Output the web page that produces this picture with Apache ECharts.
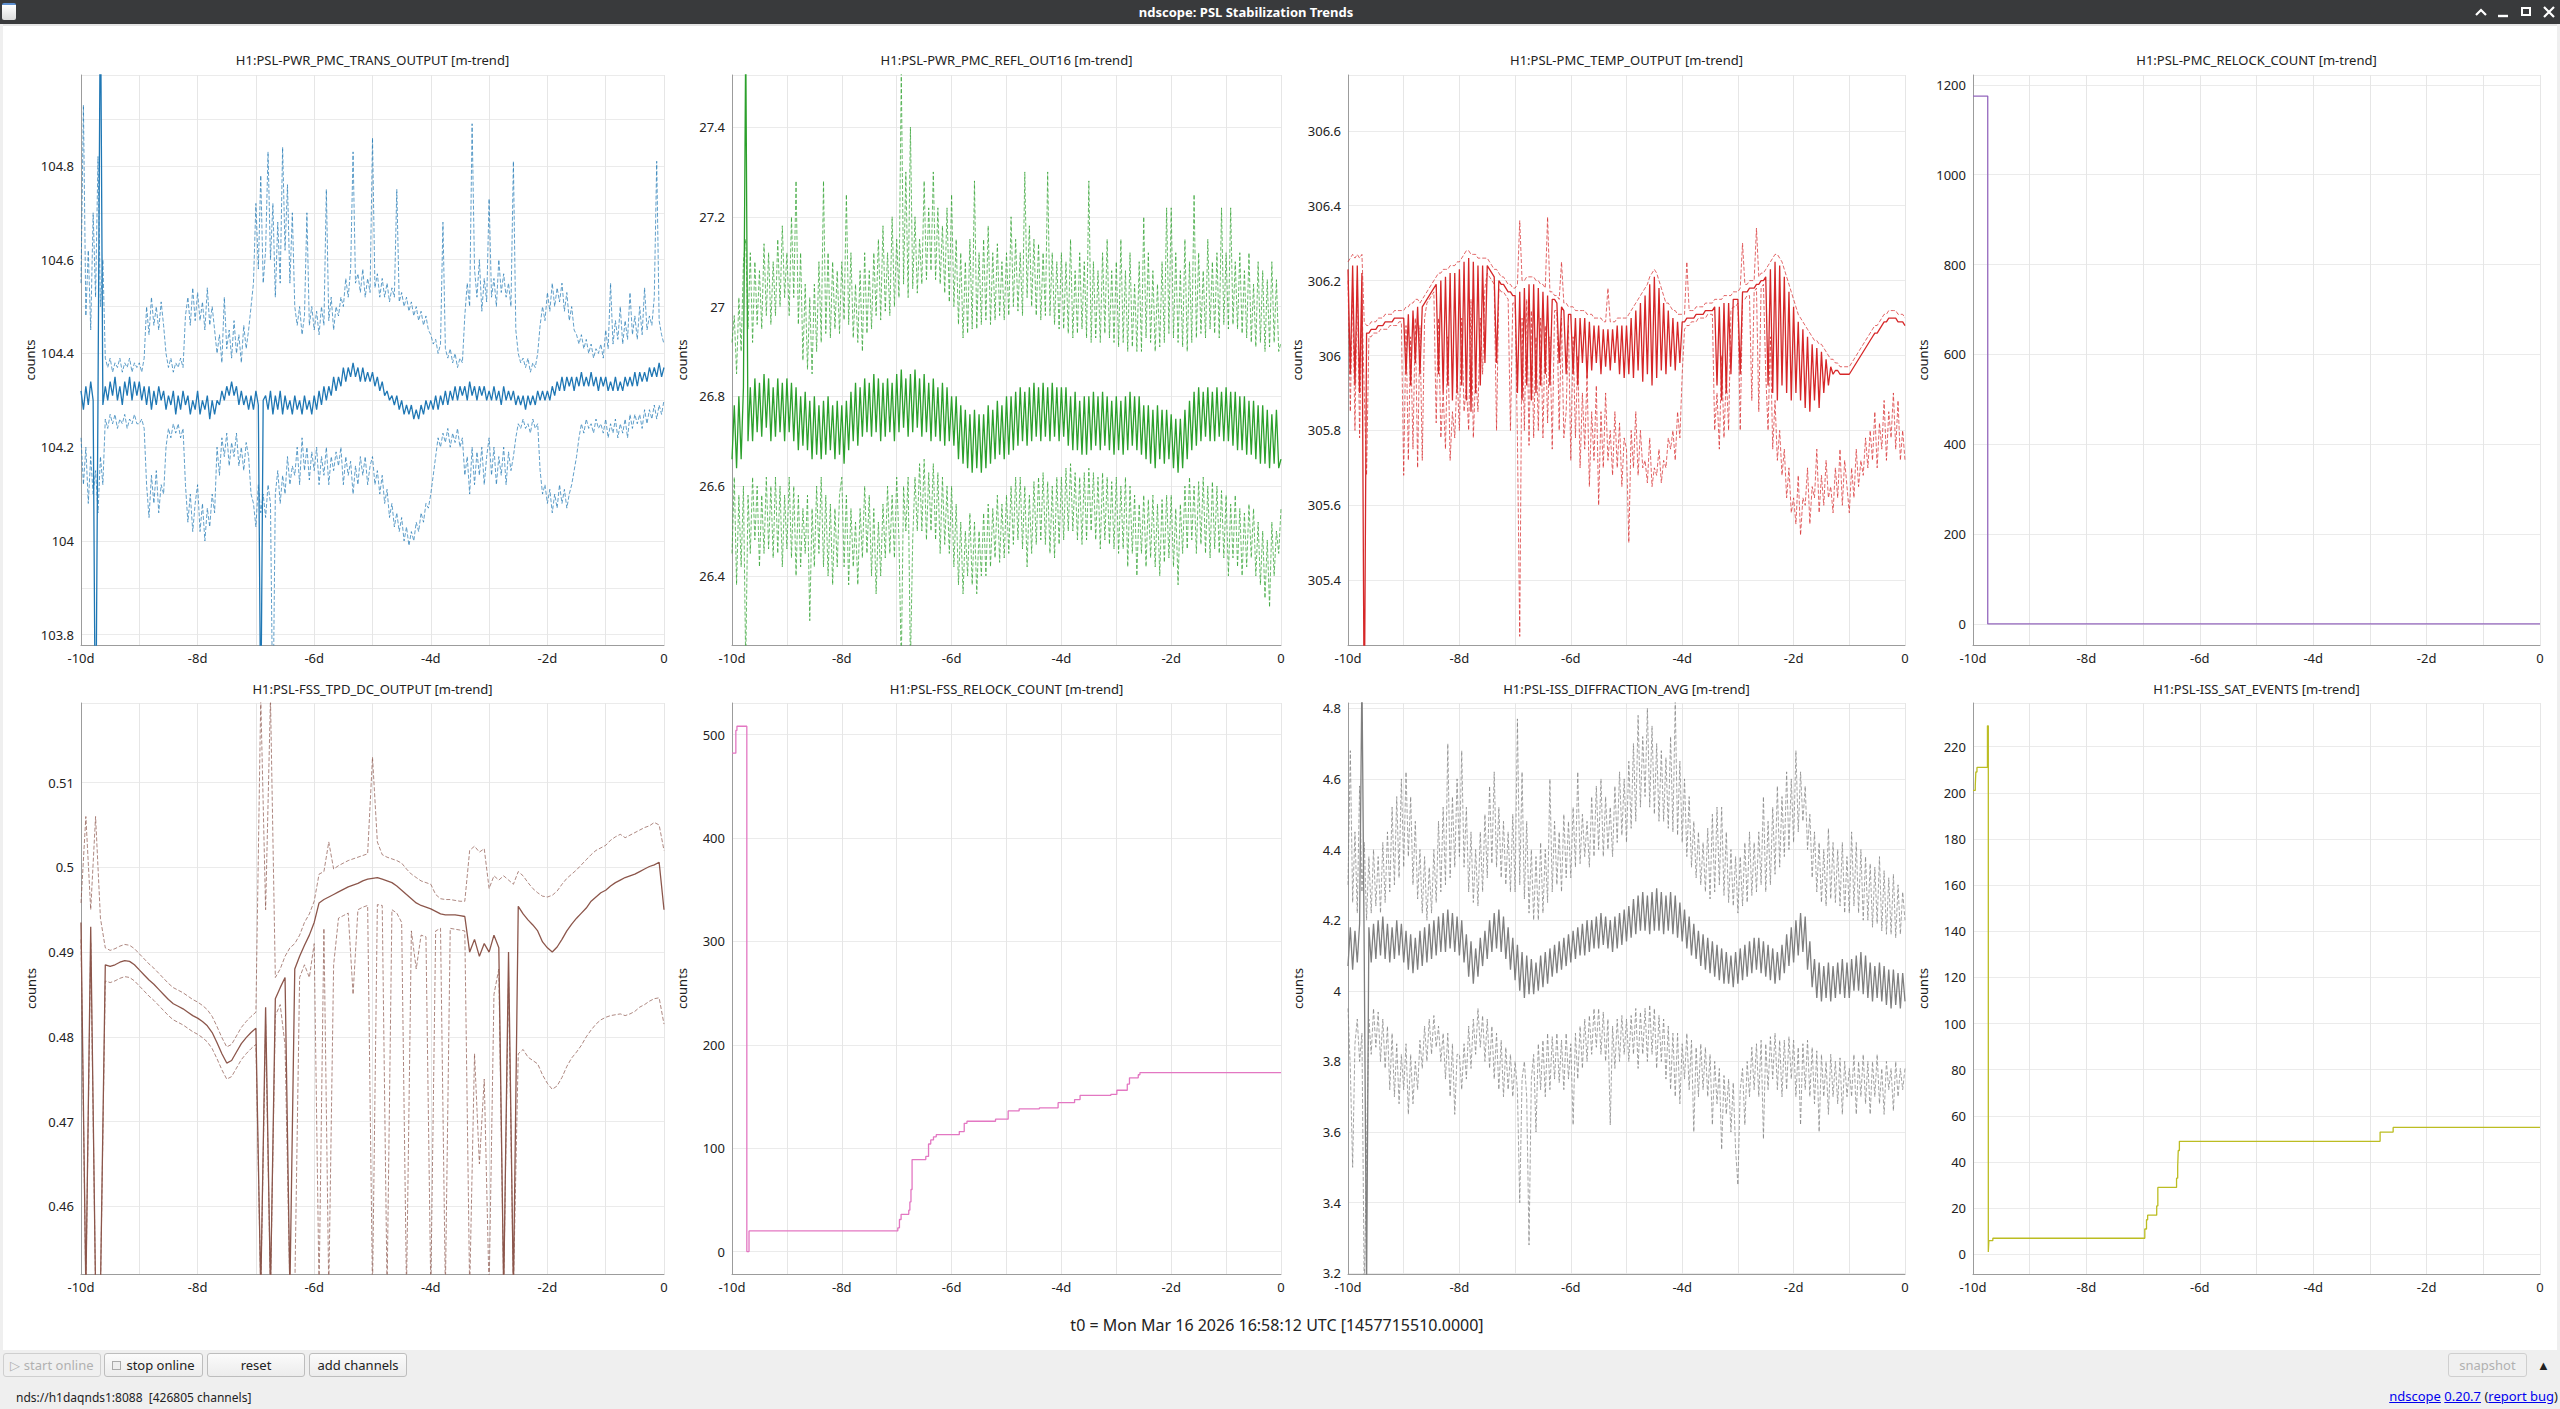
<!DOCTYPE html>
<html>
<head>
<meta charset="utf-8">
<title>ndscope: PSL Stabilization Trends</title>
<script src="https://cdn.jsdelivr.net/npm/echarts@6/dist/echarts.min.js"></script>
<style>
  html, body { margin: 0; padding: 0; width: 2560px; height: 1409px; overflow: hidden; background: #efefef; font-family: "Noto Sans", sans-serif; }
  #chart { position: absolute; left: 0; top: 0; width: 2560px; height: 1409px; background: #fff; }
  #titlebar { position: absolute; left: 0; top: 0; width: 2560px; height: 24px; background: #393a3c; color: #fff; }
  #titlebar .caption { position: absolute; left: 1246px; top: 0; transform: translateX(-50%); font-weight: bold; font-size: 13px; line-height: 24px; white-space: nowrap; }
  #titlebar .icon { position: absolute; left: 2px; top: 3px; width: 14px; height: 15px; background: linear-gradient(#ffffff, #dcdcdc); border-top: 2px solid #5d8fd0; border-radius: 2px; }
  #titlebar svg { position: absolute; top: 5px; }
  .strip { position: absolute; background: #efefef; }
  #bottom { position: absolute; left: 0; top: 1350px; width: 2560px; height: 59px; background: #efefef; }
  .btn { position: absolute; top: 1353px; height: 22px; border: 1px solid #bdbdbd; border-radius: 3px; background: linear-gradient(#fbfbfb, #ececec); font-size: 13px; line-height: 22px; text-align: center; color: #222; white-space: nowrap; }
  .btn.off { color: #b0b0b0; border-color: #cfcfcf; background: #f0f0f0; }
  #status { position: absolute; left: 16px; top: 1389px; font-size: 12px; color: #222; }
  #version { position: absolute; right: 2px; top: 1387px; font-size: 13px; color: #222; }
  #version a { color: #0000ee; text-decoration: underline; }
  #t0 { position: absolute; left: 0; top: 1314px; width: 2554px; text-align: center; font-size: 16px; color: #222; }
</style>
</head>
<body>
<div id="chart"></div>

<div id="titlebar">
  <div class="icon"></div>
  <div class="caption">ndscope: PSL Stabilization Trends</div>
  <svg style="left:2473px" width="16" height="14"><polyline points="3,10 8,5 13,10" fill="none" stroke="#fff" stroke-width="2.2"/></svg>
  <svg style="left:2495px" width="16" height="14"><line x1="3" y1="11" x2="13" y2="11" stroke="#fff" stroke-width="2.4"/></svg>
  <svg style="left:2518px" width="16" height="14"><rect x="4" y="3" width="8" height="7" fill="none" stroke="#fff" stroke-width="2"/></svg>
  <svg style="left:2541px" width="16" height="14"><path d="M3,2 L13,12 M13,2 L3,12" stroke="#fff" stroke-width="2.2"/></svg>
</div>
<div class="strip" style="left:0;top:24px;width:2560px;height:2px;background:#e4e4e4"></div>
<div class="strip" style="left:0;top:24px;width:3px;height:1326px"></div>
<div class="strip" style="left:2557px;top:24px;width:3px;height:1326px"></div>

<div id="t0">t0 = Mon Mar 16 2026 16:58:12 UTC [1457715510.0000]</div>

<div id="bottom"></div>
<div class="btn off" style="left:3px;width:96px">&#9655; start online</div>
<div class="btn" style="left:104px;width:97px"><span style="display:inline-block;width:7px;height:7px;border:1px solid #aaa;background:#eee;margin-right:5px;vertical-align:0"></span>stop online</div>
<div class="btn" style="left:207px;width:96px">reset</div>
<div class="btn" style="left:309px;width:96px">add channels</div>
<div class="btn off" style="left:2448px;width:77px">snapshot</div>
<div style="position:absolute;left:2537px;top:1356px;font-size:13px;color:#222">&#9650;</div>
<div id="status">nds://h1daqnds1:8088&nbsp;&nbsp;[426805 channels]</div>
<div id="version"><a>ndscope</a> <a>0.20.7</a> (<a>report bug</a>)</div>

<script>
// trend samples run from -10 d to 0; one row below = one day (hourly samples)

// H1:PSL-PWR_PMC_TRANS_OUTPUT
const transMean = [
  104.32,104.28,104.33,104.29,104.34,104.30,103.50,104.31,105.20,104.29,104.33,104.30,104.34,104.31,104.35,104.30,104.33,104.29,104.34,104.31,104.35,104.30,104.34,104.31,
  104.34,104.30,104.33,104.29,104.33,104.28,104.32,104.29,104.33,104.30,104.32,104.28,104.31,104.29,104.32,104.27,104.31,104.28,104.32,104.29,104.31,104.27,104.30,104.28,
  104.32,104.27,104.30,104.28,104.31,104.26,104.30,104.27,104.30,104.29,104.32,104.30,104.33,104.31,104.34,104.31,104.33,104.29,104.32,104.29,104.31,104.28,104.31,104.28,
  104.32,104.29,103.60,104.30,104.31,104.28,104.32,104.27,104.31,104.28,104.32,104.27,104.31,104.28,104.30,104.27,104.31,104.28,104.30,104.27,104.31,104.28,104.30,104.27,
  104.31,104.28,104.32,104.29,104.33,104.30,104.33,104.31,104.35,104.32,104.35,104.33,104.37,104.34,104.37,104.35,104.38,104.35,104.37,104.34,104.37,104.34,104.36,104.34,
  104.36,104.33,104.35,104.32,104.34,104.31,104.32,104.30,104.31,104.29,104.31,104.28,104.30,104.27,104.29,104.27,104.29,104.26,104.28,104.26,104.29,104.27,104.30,104.28,
  104.30,104.28,104.31,104.28,104.31,104.29,104.32,104.29,104.32,104.30,104.33,104.30,104.33,104.31,104.33,104.30,104.34,104.31,104.33,104.30,104.33,104.31,104.33,104.30,
  104.32,104.30,104.33,104.30,104.32,104.29,104.33,104.30,104.32,104.30,104.32,104.29,104.31,104.29,104.31,104.28,104.31,104.29,104.31,104.29,104.32,104.30,104.32,104.30,
  104.32,104.30,104.33,104.31,104.34,104.32,104.35,104.32,104.35,104.33,104.35,104.32,104.35,104.33,104.36,104.33,104.35,104.33,104.36,104.33,104.35,104.32,104.35,104.33,
  104.35,104.32,104.34,104.32,104.35,104.32,104.34,104.32,104.35,104.33,104.35,104.33,104.36,104.33,104.36,104.34,104.36,104.34,104.37,104.35,104.37,104.35,104.38,104.35,
  104.37];
const transMax = [
  104.55,104.93,104.48,104.62,104.45,104.70,104.52,104.82,104.50,104.60,104.39,104.37,104.39,104.36,104.38,104.37,104.39,104.36,104.38,104.37,104.39,104.36,104.38,104.37,
  104.38,104.36,104.39,104.50,104.44,104.52,104.46,104.50,104.45,104.51,104.46,104.40,104.37,104.39,104.36,104.38,104.37,104.39,104.37,104.48,104.52,104.46,104.54,104.47,
  104.53,104.47,104.51,104.45,104.54,104.46,104.50,104.45,104.40,104.44,104.38,104.52,104.41,104.45,104.39,104.47,104.40,104.44,104.38,104.46,104.41,104.45,104.50,104.55,
  104.72,104.58,104.78,104.55,104.62,104.83,104.60,104.72,104.52,104.68,104.55,104.84,104.62,104.76,104.55,104.70,104.50,104.46,104.50,104.44,104.48,104.70,104.46,104.50,
  104.45,104.49,104.44,104.50,104.46,104.75,104.47,104.52,104.45,104.50,104.48,104.52,104.50,104.56,104.52,104.58,104.83,104.55,104.57,104.53,104.58,104.52,104.56,104.53,
  104.86,104.54,104.57,104.52,104.56,104.52,104.55,104.51,104.54,104.52,104.75,104.51,104.53,104.50,104.52,104.49,104.51,104.48,104.50,104.47,104.49,104.46,104.48,104.45,
  104.44,104.42,104.43,104.40,104.42,104.68,104.41,104.39,104.41,104.38,104.40,104.37,104.39,104.38,104.48,104.55,104.50,104.89,104.58,104.52,104.60,104.49,104.56,104.51,
  104.73,104.52,104.56,104.50,104.60,104.53,104.57,104.52,104.55,104.50,104.81,104.45,104.40,104.38,104.39,104.37,104.39,104.36,104.38,104.37,104.40,104.46,104.50,104.47,
  104.53,104.49,104.55,104.50,104.54,104.51,104.55,104.49,104.53,104.47,104.50,104.45,104.44,104.42,104.44,104.41,104.43,104.40,104.42,104.39,104.41,104.40,104.42,104.39,
  104.45,104.41,104.55,104.42,104.47,104.43,104.50,104.42,104.47,104.43,104.53,104.44,104.48,104.43,104.50,104.44,104.54,104.45,104.48,104.46,104.52,104.81,104.47,104.44,
  104.42];
const transMin = [
  104.22,104.12,104.20,104.08,104.18,104.10,104.15,104.06,104.18,104.12,104.26,104.24,104.27,104.25,104.27,104.24,104.26,104.25,104.27,104.24,104.26,104.25,104.27,104.25,
  104.25,104.26,104.24,104.12,104.05,104.14,104.08,104.15,104.06,104.12,104.10,104.20,104.24,104.22,104.25,104.23,104.25,104.22,104.24,104.12,104.04,104.10,104.02,104.08,
  104.12,104.02,104.08,104.00,104.07,104.03,104.10,104.06,104.20,104.14,104.22,104.18,104.23,104.16,104.21,104.18,104.23,104.16,104.20,104.15,104.21,104.18,104.10,104.08,
  104.03,104.12,104.06,104.10,104.05,104.12,104.08,103.60,104.10,104.15,104.08,104.14,104.10,104.18,104.12,104.16,104.14,104.20,104.12,104.22,104.15,104.20,104.13,104.19,
  104.15,104.20,104.12,104.18,104.14,104.20,104.12,104.18,104.15,104.19,104.16,104.20,104.12,104.18,104.14,104.17,104.10,104.16,104.12,104.18,104.14,104.18,104.12,104.16,
  104.18,104.12,104.15,104.10,104.14,104.08,104.11,104.05,104.08,104.03,104.06,104.02,104.05,104.00,104.03,103.99,104.02,104.00,104.04,104.02,104.06,104.04,104.08,104.07,
  104.10,104.14,104.18,104.22,104.20,104.23,104.21,104.24,104.20,104.23,104.21,104.24,104.20,104.22,104.14,104.18,104.10,104.20,104.12,104.19,104.14,104.20,104.12,104.18,
  104.22,104.14,104.20,104.12,104.18,104.14,104.20,104.12,104.19,104.15,104.18,104.22,104.25,104.24,104.26,104.24,104.25,104.23,104.26,104.24,104.25,104.15,104.10,104.12,
  104.08,104.11,104.06,104.10,104.07,104.12,104.08,104.11,104.07,104.10,104.12,104.15,104.18,104.22,104.25,104.23,104.26,104.24,104.25,104.23,104.26,104.24,104.25,104.23,
  104.26,104.22,104.25,104.23,104.26,104.22,104.25,104.23,104.26,104.22,104.27,104.24,104.27,104.25,104.27,104.24,104.28,104.25,104.28,104.26,104.29,104.26,104.29,104.27,
  104.30];

// H1:PSL-PWR_PMC_REFL_OUT16
const reflMean = [
  26.66,26.78,26.64,26.80,26.66,26.82,27.60,26.70,26.82,26.70,26.84,26.72,26.83,26.71,26.85,26.73,26.84,26.70,26.82,26.71,26.84,26.72,26.83,26.70,
  26.84,26.72,26.83,26.70,26.82,26.68,26.80,26.69,26.81,26.68,26.79,26.66,26.80,26.67,26.78,26.66,26.79,26.67,26.80,26.68,26.78,26.66,26.79,26.67,
  26.78,26.65,26.79,26.68,26.81,26.70,26.83,26.69,26.82,26.71,26.84,26.72,26.83,26.71,26.85,26.72,26.84,26.70,26.83,26.71,26.84,26.72,26.83,26.70,
  26.85,26.72,26.86,26.73,26.84,26.71,26.85,26.72,26.86,26.73,26.84,26.71,26.85,26.72,26.83,26.70,26.84,26.71,26.82,26.70,26.83,26.69,26.82,26.70,
  26.80,26.69,26.80,26.66,26.78,26.65,26.77,26.64,26.76,26.63,26.77,26.64,26.76,26.63,26.76,26.64,26.78,26.65,26.77,26.66,26.79,26.67,26.78,26.66,
  26.80,26.67,26.80,26.68,26.81,26.69,26.82,26.70,26.81,26.69,26.82,26.70,26.83,26.71,26.82,26.70,26.83,26.71,26.82,26.70,26.83,26.71,26.82,26.70,
  26.82,26.71,26.82,26.69,26.80,26.68,26.81,26.68,26.79,26.67,26.80,26.67,26.80,26.68,26.81,26.69,26.80,26.68,26.81,26.69,26.80,26.68,26.79,26.67,
  26.80,26.68,26.79,26.67,26.80,26.68,26.81,26.69,26.80,26.68,26.80,26.67,26.78,26.66,26.78,26.65,26.77,26.64,26.78,26.66,26.77,26.65,26.77,26.66,
  26.76,26.64,26.75,26.63,26.75,26.64,26.77,26.66,26.79,26.68,26.81,26.69,26.82,26.70,26.81,26.71,26.82,26.70,26.81,26.70,26.82,26.71,26.81,26.70,
  26.82,26.70,26.81,26.69,26.81,26.68,26.80,26.68,26.80,26.67,26.79,26.67,26.79,26.66,26.78,26.65,26.78,26.65,26.77,26.64,26.76,26.65,26.77,26.64,
  26.66];
const reflMax = [
  26.92,26.98,26.85,27.02,26.90,27.10,27.15,26.95,27.12,26.92,27.10,26.96,27.08,26.95,27.14,26.98,27.12,26.96,27.10,26.98,27.15,27.00,27.18,27.02,
  27.12,26.98,27.20,27.02,27.28,26.96,27.12,26.88,27.05,26.86,27.02,26.85,27.05,26.90,27.10,26.92,27.28,26.94,27.12,26.93,27.10,26.95,27.08,26.94,
  27.10,26.97,27.25,26.96,27.12,26.93,27.05,26.92,27.08,26.90,27.12,26.94,27.08,26.95,27.12,26.98,27.15,26.97,27.18,26.99,27.12,26.98,27.20,27.00,
  27.15,27.02,27.52,27.05,27.30,27.02,27.40,27.04,27.20,27.03,27.15,27.05,27.28,27.06,27.22,27.08,27.30,27.06,27.22,27.05,27.18,27.03,27.22,27.01,
  27.25,27.00,27.15,26.96,27.12,26.93,27.10,26.94,27.15,26.95,27.28,26.95,27.12,26.96,27.15,26.97,27.18,26.96,27.12,26.97,27.14,26.98,27.10,26.97,
  27.12,26.98,27.20,27.00,27.15,26.99,27.12,26.98,27.30,27.02,27.18,27.00,27.15,26.98,27.14,26.97,27.12,26.98,27.30,26.98,27.12,26.96,27.10,26.95,
  27.12,26.95,27.10,26.94,27.15,26.93,27.08,26.94,27.12,26.95,27.10,26.93,27.28,26.92,27.10,26.93,27.08,26.92,27.12,26.94,27.15,26.93,27.08,26.92,
  27.10,26.91,27.15,26.92,27.08,26.90,27.12,26.91,27.05,26.90,27.10,26.90,27.20,26.93,27.12,26.92,27.08,26.90,27.05,26.91,27.10,26.92,27.22,26.94,
  27.22,26.93,27.12,26.92,27.08,26.91,27.15,26.90,27.10,26.92,27.25,26.93,27.12,26.94,27.08,26.93,27.15,26.95,27.10,26.94,27.12,26.93,27.22,26.96,
  27.12,26.95,27.22,26.96,27.10,26.95,27.12,26.94,27.08,26.93,27.12,26.92,27.05,26.91,27.10,26.92,27.08,26.90,27.06,26.91,27.10,26.92,27.06,26.90,
  26.92];
const reflMin = [
  26.45,26.62,26.38,26.58,26.42,26.60,26.20,26.58,26.45,26.62,26.48,26.60,26.42,26.58,26.45,26.62,26.46,26.60,26.44,26.62,26.45,26.60,26.42,26.58,
  26.46,26.62,26.44,26.60,26.40,26.58,26.42,26.55,26.45,26.58,26.30,26.55,26.42,26.60,26.45,26.62,26.42,26.58,26.40,26.56,26.38,26.55,26.42,26.58,
  26.62,26.42,26.58,26.38,26.55,26.42,26.52,26.38,26.55,26.44,26.60,26.45,26.58,26.40,26.55,26.36,26.52,26.40,26.56,26.44,26.60,26.45,26.58,26.44,
  26.62,26.48,26.20,26.60,26.50,26.62,26.20,26.48,26.62,26.50,26.65,26.50,26.66,26.48,26.63,26.50,26.65,26.48,26.63,26.45,26.62,26.47,26.60,26.45,
  26.60,26.42,26.56,26.38,26.52,26.36,26.50,26.40,26.54,26.38,26.52,26.36,26.50,26.40,26.54,26.40,26.56,26.42,26.55,26.44,26.58,26.43,26.56,26.44,
  26.58,26.45,26.60,26.47,26.62,26.48,26.62,26.46,26.60,26.42,26.58,26.45,26.61,26.47,26.62,26.48,26.63,26.47,26.61,26.45,26.60,26.44,26.62,26.47,
  26.62,26.48,26.64,26.50,26.65,26.50,26.63,26.48,26.62,26.47,26.63,26.48,26.64,26.50,26.63,26.48,26.62,26.46,26.63,26.48,26.62,26.47,26.61,26.46,
  26.62,26.45,26.60,26.46,26.62,26.42,26.60,26.45,26.58,26.40,26.56,26.45,26.58,26.42,26.57,26.44,26.58,26.42,26.56,26.40,26.57,26.43,26.58,26.44,
  26.58,26.42,26.55,26.38,26.56,26.45,26.60,26.46,26.62,26.48,26.60,26.45,26.61,26.47,26.62,26.45,26.60,26.44,26.61,26.46,26.60,26.45,26.59,26.44,
  26.58,26.40,26.56,26.44,26.58,26.42,26.55,26.40,26.54,26.42,26.56,26.44,26.55,26.40,26.52,26.38,26.50,26.35,26.48,26.33,26.52,26.40,26.50,26.45,
  26.55];

// H1:PSL-PMC_TEMP_OUTPUT
const tempMean = [
  306.23,305.95,306.24,305.92,306.24,305.90,306.22,305.00,306.06,306.06,306.07,306.07,306.07,306.08,306.08,306.08,306.09,306.09,306.09,306.09,306.10,306.10,306.10,306.10,
  306.10,305.95,306.11,305.92,306.12,305.98,306.13,305.95,306.13,306.14,306.15,306.16,306.17,306.18,306.19,305.95,306.20,305.90,306.21,305.92,306.22,305.88,306.22,305.90,
  306.23,305.92,306.25,305.88,306.26,305.85,306.25,305.90,306.24,305.92,306.24,305.98,306.24,306.23,306.22,306.21,305.98,306.20,306.19,306.19,306.18,306.17,306.17,306.16,
  306.16,305.90,306.17,305.88,306.18,305.92,306.19,305.88,306.19,305.90,306.18,305.92,306.17,305.95,306.16,305.92,306.15,306.15,306.14,305.98,306.13,306.12,305.95,306.11,
  306.11,305.95,306.10,305.92,306.10,305.98,306.10,305.94,306.09,305.96,306.08,305.98,306.08,305.95,306.07,305.97,306.07,305.96,306.07,305.98,306.08,305.95,306.08,305.94,
  306.08,305.95,306.10,305.94,306.12,305.96,306.14,305.93,306.16,305.95,306.19,305.92,306.21,305.94,306.18,305.96,306.14,305.95,306.12,305.97,306.10,305.96,306.09,305.98,
  306.09,306.09,306.10,306.10,306.10,306.10,306.11,306.11,306.11,306.11,306.12,306.12,306.12,306.12,306.13,305.92,306.13,305.88,306.14,305.90,306.14,305.95,306.15,306.15,
  306.15,305.95,306.17,306.17,306.17,306.18,306.18,306.18,306.19,306.19,306.20,306.20,306.21,305.92,306.23,305.90,306.25,305.88,306.24,305.92,306.21,305.90,306.17,305.88,
  306.13,305.90,306.09,305.88,306.07,305.86,306.05,305.85,306.03,305.88,306.02,305.86,306.01,305.90,305.99,305.92,305.97,305.95,305.96,305.96,305.95,305.95,305.95,305.95,
  305.95,305.96,305.97,305.98,305.99,306.00,306.01,306.02,306.03,306.04,306.05,306.06,306.06,306.07,306.08,306.09,306.09,306.10,306.10,306.10,306.10,306.09,306.09,306.09,
  306.08];
const tempMax = [
  306.25,306.26,306.27,306.26,306.27,306.26,306.27,306.09,306.08,306.08,306.09,306.09,306.09,306.10,306.10,306.10,306.11,306.11,306.11,306.11,306.12,306.12,306.12,306.12,
  306.12,306.13,306.13,306.14,306.14,306.15,306.15,306.14,306.15,306.16,306.17,306.18,306.19,306.20,306.21,306.22,306.22,306.23,306.23,306.23,306.24,306.24,306.24,306.25,
  306.25,306.26,306.27,306.28,306.28,306.27,306.27,306.27,306.26,306.26,306.26,306.26,306.26,306.25,306.24,306.23,306.23,306.22,306.21,306.21,306.20,306.19,306.19,306.18,
  306.18,306.19,306.36,306.20,306.20,306.21,306.21,306.21,306.21,306.20,306.20,306.19,306.19,306.18,306.37,306.17,306.17,306.16,306.16,306.15,306.25,306.14,306.14,306.13,
  306.13,306.13,306.12,306.12,306.12,306.12,306.12,306.11,306.11,306.11,306.10,306.10,306.10,306.10,306.09,306.09,306.18,306.09,306.09,306.09,306.10,306.10,306.10,306.10,
  306.10,306.11,306.12,306.13,306.14,306.15,306.16,306.17,306.18,306.19,306.21,306.22,306.23,306.22,306.20,306.18,306.16,306.14,306.14,306.13,306.12,306.12,306.11,306.11,
  306.11,306.11,306.25,306.12,306.12,306.12,306.13,306.13,306.13,306.13,306.14,306.14,306.14,306.14,306.15,306.15,306.15,306.15,306.16,306.16,306.16,306.16,306.17,306.17,
  306.17,306.18,306.30,306.19,306.19,306.20,306.20,306.20,306.34,306.21,306.22,306.22,306.23,306.24,306.25,306.26,306.27,306.27,306.26,306.25,306.23,306.21,306.19,306.17,
  306.15,306.13,306.11,306.10,306.09,306.08,306.07,306.06,306.05,306.04,306.04,306.03,306.03,306.02,306.01,306.00,305.99,305.99,305.98,305.98,305.97,305.97,305.97,305.97,
  305.97,305.98,305.99,306.00,306.01,306.02,306.03,306.04,306.05,306.06,306.07,306.08,306.08,306.09,306.10,306.11,306.11,306.12,306.12,306.12,306.12,306.11,306.11,306.11,
  306.10];
const tempMin = [
  306.20,305.85,306.18,305.80,306.20,305.78,306.15,305.90,305.68,306.05,306.05,306.06,306.06,306.06,306.07,306.07,306.07,306.07,306.08,306.08,306.08,306.08,306.09,306.09,
  305.68,306.08,305.72,306.05,305.75,306.10,305.70,306.08,305.72,306.10,306.14,306.15,306.16,306.17,305.82,306.10,305.78,305.90,305.75,306.05,305.72,305.85,305.78,305.95,
  305.80,306.10,305.85,305.92,305.80,306.15,305.78,305.95,305.85,306.10,305.95,306.18,306.22,306.21,306.20,306.19,305.80,306.18,306.17,306.17,306.16,306.15,305.80,306.14,
  306.14,305.78,305.25,306.10,305.80,306.15,305.76,306.12,305.78,306.05,305.80,306.10,305.78,306.08,305.82,306.05,305.75,306.12,306.12,305.80,306.10,305.78,305.85,306.08,
  305.72,306.05,305.78,306.00,305.70,305.90,305.75,305.95,305.65,305.85,305.72,305.92,305.60,305.85,305.70,305.90,305.72,305.80,305.68,305.85,305.70,305.82,305.65,305.78,
  305.75,305.50,305.80,305.70,305.85,305.68,305.80,305.70,305.72,305.66,305.78,305.65,305.70,305.68,305.75,305.66,305.72,305.70,305.78,305.75,305.80,305.72,305.85,305.78,
  305.95,306.07,306.08,306.08,306.09,306.09,306.09,306.10,306.10,306.10,306.10,306.11,306.11,306.11,305.80,305.90,305.75,306.00,305.78,305.95,305.80,306.12,306.13,306.13,
  306.14,305.80,306.15,306.15,306.16,306.16,305.88,306.17,306.18,305.85,306.18,306.19,305.95,305.80,306.05,305.75,305.88,305.72,305.80,305.68,305.75,305.62,305.70,305.58,
  305.62,305.55,305.68,305.52,305.62,305.60,305.70,305.55,305.65,305.62,305.75,305.58,305.68,305.60,305.72,305.62,305.65,305.58,305.70,305.62,305.75,305.60,305.72,305.65,
  305.58,305.70,305.62,305.75,305.65,305.72,305.68,305.78,305.70,305.80,305.72,305.85,305.70,305.82,305.75,305.88,305.72,305.85,305.78,305.90,305.75,305.88,305.72,305.80,
  305.72];

// H1:PSL-PMC_RELOCK_COUNT  [day, count] at each change
const pmcRelockSteps = [[-10, 1175], [-9.74, 0], [0, 0]];

// H1:PSL-FSS_TPD_DC_OUTPUT (2 h samples, 12 per row)
const tpdMean = [
  0.4935,0.4500,0.4930,0.4500,0.4500,0.4885,0.4883,0.4885,0.4888,0.4890,0.4889,0.4885,
  0.4879,0.4873,0.4867,0.4862,0.4856,0.4850,0.4844,0.4839,0.4836,0.4833,0.4829,0.4825,
  0.4822,0.4818,0.4813,0.4805,0.4793,0.4780,0.4769,0.4772,0.4782,0.4792,0.4799,0.4805,
  0.4810,0.4500,0.4835,0.4500,0.4845,0.4858,0.4870,0.4500,0.4880,0.4895,0.4908,0.4920,
  0.4935,0.4958,0.4962,0.4965,0.4968,0.4971,0.4974,0.4977,0.4979,0.4981,0.4984,0.4986,
  0.4987,0.4988,0.4986,0.4984,0.4982,0.4978,0.4973,0.4968,0.4963,0.4958,0.4955,0.4953,
  0.4951,0.4948,0.4945,0.4944,0.4944,0.4944,0.4943,0.4942,0.4900,0.4915,0.4895,0.4910,
  0.4900,0.4920,0.4905,0.4500,0.4900,0.4500,0.4954,0.4945,0.4938,0.4932,0.4925,0.4912,
  0.4905,0.4900,0.4906,0.4915,0.4925,0.4933,0.4940,0.4946,0.4952,0.4960,0.4965,0.4970,
  0.4973,0.4978,0.4982,0.4985,0.4988,0.4990,0.4992,0.4995,0.4998,0.5001,0.5003,0.5006,
  0.4950];
const tpdMax = [
  0.4958,0.5060,0.4950,0.5060,0.4940,0.4905,0.4902,0.4904,0.4907,0.4909,0.4908,0.4904,
  0.4898,0.4892,0.4886,0.4881,0.4875,0.4869,0.4863,0.4858,0.4855,0.4852,0.4848,0.4844,
  0.4841,0.4837,0.4832,0.4824,0.4812,0.4799,0.4788,0.4791,0.4801,0.4811,0.4818,0.4824,
  0.4829,0.5200,0.4950,0.5200,0.4870,0.4880,0.4895,0.4905,0.4910,0.4920,0.4935,0.4945,
  0.4960,0.4992,0.4995,0.5030,0.4998,0.5002,0.5005,0.5008,0.5010,0.5012,0.5014,0.5016,
  0.5130,0.5030,0.5015,0.5012,0.5010,0.5008,0.5005,0.4998,0.4992,0.4988,0.4984,0.4982,
  0.4980,0.4968,0.4963,0.4962,0.4962,0.4961,0.4960,0.4960,0.5020,0.5025,0.5018,0.5022,
  0.4975,0.4990,0.4985,0.4990,0.4985,0.4980,0.4995,0.4990,0.4982,0.4975,0.4970,0.4966,
  0.4965,0.4967,0.4972,0.4980,0.4987,0.4992,0.4997,0.5003,0.5009,0.5015,0.5020,0.5023,
  0.5026,0.5032,0.5036,0.5039,0.5035,0.5038,0.5041,0.5044,0.5047,0.5049,0.5053,0.5050,
  0.5020];
const tpdMin = [
  0.4915,0.4500,0.4912,0.4500,0.4500,0.4866,0.4864,0.4866,0.4869,0.4871,0.4870,0.4866,
  0.4860,0.4854,0.4848,0.4843,0.4837,0.4831,0.4825,0.4820,0.4817,0.4814,0.4810,0.4806,
  0.4803,0.4799,0.4794,0.4786,0.4774,0.4761,0.4750,0.4753,0.4763,0.4773,0.4780,0.4786,
  0.4791,0.4500,0.4815,0.4500,0.4825,0.4838,0.4790,0.4500,0.4500,0.4870,0.4885,0.4870,
  0.4910,0.4500,0.4928,0.4500,0.4885,0.4940,0.4943,0.4946,0.4850,0.4950,0.4953,0.4955,
  0.4500,0.4956,0.4955,0.4500,0.4950,0.4946,0.4935,0.4500,0.4925,0.4880,0.4920,0.4918,
  0.4500,0.4925,0.4928,0.4500,0.4928,0.4927,0.4926,0.4925,0.4500,0.4780,0.4650,0.4750,
  0.4500,0.4850,0.4880,0.4500,0.4870,0.4500,0.4780,0.4785,0.4776,0.4772,0.4768,0.4755,
  0.4745,0.4738,0.4742,0.4752,0.4765,0.4775,0.4782,0.4790,0.4800,0.4808,0.4815,0.4820,
  0.4823,0.4825,0.4826,0.4827,0.4825,0.4827,0.4830,0.4835,0.4838,0.4842,0.4845,0.4846,
  0.4815];

// H1:PSL-FSS_RELOCK_COUNT
const fssRelockSteps = [
  [-10, 482], [-9.93, 504], [-9.91, 508], [-9.73, 0], [-9.69, 20], [-6.98, 23], [-6.95, 31],
  [-6.92, 36], [-6.78, 40], [-6.76, 48], [-6.74, 60], [-6.72, 89], [-6.47, 92], [-6.42, 104],
  [-6.38, 108], [-6.33, 111], [-6.28, 113], [-5.86, 116], [-5.77, 124], [-5.72, 126], [-5.2, 128],
  [-4.97, 136], [-4.77, 138], [-4.4, 139], [-4.06, 144], [-3.76, 147], [-3.66, 151], [-3.1, 152],
  [-2.99, 156], [-2.8, 162], [-2.76, 168], [-2.6, 171], [-2.57, 173], [0, 173]];

// H1:PSL-ISS_DIFFRACTION_AVG
const diffMean = [
  4.07,4.18,4.06,4.17,4.08,4.19,4.90,4.10,3.15,4.18,4.08,4.19,4.09,4.20,4.10,4.21,4.09,4.19,4.08,4.18,4.09,4.20,4.10,4.19,
  4.08,4.17,4.06,4.16,4.05,4.15,4.06,4.17,4.07,4.18,4.08,4.19,4.09,4.20,4.10,4.21,4.11,4.22,4.11,4.23,4.12,4.22,4.11,4.21,
  4.10,4.20,4.08,4.16,4.04,4.14,4.02,4.12,4.04,4.15,4.07,4.17,4.09,4.20,4.11,4.22,4.12,4.23,4.11,4.21,4.09,4.18,4.06,4.15,
  4.03,4.13,4.00,4.11,3.98,4.10,3.99,4.09,3.99,4.08,4.00,4.10,4.01,4.11,4.02,4.12,4.04,4.13,4.05,4.14,4.06,4.15,4.07,4.16,
  4.08,4.17,4.09,4.18,4.10,4.19,4.10,4.20,4.11,4.20,4.12,4.21,4.12,4.22,4.13,4.21,4.12,4.20,4.11,4.21,4.12,4.22,4.13,4.23,
  4.14,4.24,4.15,4.26,4.16,4.27,4.17,4.28,4.17,4.27,4.16,4.28,4.17,4.29,4.17,4.28,4.16,4.27,4.17,4.28,4.16,4.27,4.15,4.25,
  4.14,4.23,4.12,4.21,4.10,4.19,4.09,4.17,4.07,4.16,4.06,4.15,4.05,4.14,4.04,4.13,4.03,4.12,4.02,4.11,4.02,4.10,4.01,4.11,
  4.02,4.12,4.03,4.13,4.04,4.14,4.05,4.15,4.06,4.15,4.05,4.14,4.04,4.13,4.03,4.12,4.02,4.11,4.03,4.13,4.05,4.16,4.07,4.18,
  4.08,4.20,4.10,4.22,4.11,4.21,4.06,4.14,4.01,4.09,3.98,4.08,3.97,4.07,3.98,4.08,3.97,4.07,3.98,4.08,3.99,4.09,3.98,4.08,
  3.98,4.09,4.00,4.10,4.00,4.11,3.99,4.10,3.98,4.08,3.97,4.07,3.98,4.08,3.97,4.07,3.96,4.06,3.95,4.06,3.96,4.05,3.95,4.05,
  3.97];
const diffMax = [
  4.30,4.68,4.25,4.45,4.22,4.58,4.28,4.42,4.20,4.38,4.22,4.40,4.24,4.38,4.22,4.42,4.25,4.45,4.28,4.52,4.30,4.55,4.32,4.60,
  4.35,4.62,4.38,4.55,4.30,4.48,4.26,4.40,4.22,4.38,4.20,4.35,4.22,4.40,4.25,4.48,4.28,4.52,4.30,4.70,4.32,4.55,4.35,4.60,
  4.38,4.68,4.35,4.52,4.28,4.45,4.25,4.40,4.24,4.45,4.28,4.50,4.32,4.58,4.36,4.62,4.35,4.52,4.32,4.48,4.30,4.45,4.28,4.50,
  4.28,4.77,4.30,4.62,4.26,4.48,4.22,4.40,4.20,4.38,4.20,4.42,4.22,4.40,4.25,4.60,4.28,4.48,4.30,4.45,4.28,4.50,4.32,4.48,
  4.32,4.52,4.35,4.62,4.36,4.50,4.38,4.48,4.35,4.55,4.38,4.58,4.40,4.60,4.38,4.55,4.40,4.52,4.38,4.58,4.42,4.62,4.44,4.60,
  4.42,4.65,4.46,4.70,4.48,4.78,4.52,4.72,4.55,4.80,4.52,4.75,4.50,4.70,4.48,4.68,4.48,4.66,4.46,4.72,4.45,4.82,4.44,4.65,
  4.42,4.60,4.38,4.55,4.35,4.48,4.32,4.45,4.30,4.42,4.28,4.46,4.26,4.50,4.28,4.52,4.30,4.52,4.27,4.45,4.25,4.40,4.24,4.38,
  4.22,4.38,4.24,4.42,4.25,4.45,4.27,4.42,4.28,4.45,4.30,4.55,4.28,4.48,4.30,4.52,4.33,4.58,4.35,4.55,4.38,4.62,4.40,4.60,
  4.42,4.68,4.45,4.62,4.48,4.58,4.40,4.50,4.32,4.45,4.28,4.42,4.25,4.40,4.24,4.46,4.26,4.42,4.25,4.40,4.24,4.42,4.22,4.38,
  4.22,4.45,4.24,4.42,4.22,4.40,4.20,4.38,4.20,4.36,4.18,4.35,4.19,4.38,4.17,4.34,4.16,4.32,4.16,4.33,4.15,4.30,4.16,4.28,
  4.20];
const diffMin = [
  3.95,3.78,3.50,3.85,3.92,3.80,3.88,3.15,3.55,3.92,3.82,3.95,3.84,3.94,3.80,3.92,3.78,3.90,3.72,3.88,3.70,3.85,3.68,3.82,
  3.72,3.85,3.65,3.82,3.68,3.80,3.72,3.86,3.78,3.90,3.80,3.92,3.82,3.93,3.84,3.90,3.80,3.88,3.75,3.88,3.70,3.85,3.65,3.82,
  3.82,3.72,3.85,3.75,3.90,3.78,3.92,3.82,3.95,3.84,3.93,3.80,3.92,3.78,3.90,3.75,3.88,3.72,3.86,3.70,3.84,3.72,3.82,3.70,
  3.80,3.72,3.40,3.75,3.80,3.70,3.28,3.75,3.82,3.60,3.85,3.72,3.86,3.70,3.88,3.72,3.87,3.75,3.88,3.74,3.86,3.72,3.88,3.75,
  3.85,3.62,3.88,3.75,3.90,3.78,3.92,3.80,3.93,3.82,3.95,3.84,3.95,3.82,3.94,3.80,3.92,3.62,3.90,3.78,3.92,3.80,3.93,3.82,
  3.92,3.80,3.93,3.82,3.95,3.78,3.94,3.82,3.95,3.80,3.96,3.82,3.95,3.78,3.93,3.80,3.92,3.75,3.90,3.72,3.88,3.70,3.88,3.68,
  3.85,3.75,3.88,3.72,3.86,3.60,3.84,3.70,3.85,3.72,3.84,3.70,3.82,3.62,3.80,3.68,3.78,3.55,3.76,3.65,3.75,3.60,3.74,3.55,
  3.45,3.72,3.78,3.62,3.80,3.70,3.84,3.72,3.85,3.70,3.86,3.58,3.85,3.72,3.87,3.75,3.88,3.72,3.86,3.70,3.86,3.72,3.87,3.75,
  3.86,3.70,3.84,3.62,3.85,3.72,3.86,3.70,3.84,3.68,3.83,3.60,3.82,3.70,3.80,3.65,3.82,3.70,3.80,3.68,3.81,3.65,3.80,3.70,
  3.78,3.70,3.82,3.65,3.80,3.70,3.82,3.68,3.80,3.65,3.80,3.70,3.82,3.68,3.78,3.65,3.80,3.72,3.78,3.66,3.80,3.70,3.78,3.72,
  3.78];

// H1:PSL-ISS_SAT_EVENTS
const satEventSteps = [
  [-10, 201], [-9.96, 203], [-9.95, 209], [-9.93, 211], [-9.745, 229], [-9.73, 1], [-9.72, 6],
  [-9.65, 7], [-6.97, 11], [-6.94, 15], [-6.92, 17], [-6.76, 21], [-6.74, 29], [-6.41, 33],
  [-6.39, 38], [-6.38, 45], [-6.36, 49], [-2.82, 53], [-2.59, 55], [0, 55]];

const xTickLabels = ['-10d', '-8d', '-6d', '-4d', '-2d', '0'];

// panels, left to right then top to bottom
const panels = [
  { title: 'H1:PSL-PWR_PMC_TRANS_OUTPUT [m-trend]', color: '#1f77b4', yMin: 103.778, yMax: 104.994, split: 12, step: 0.2, mean: transMean, max: transMax, min: transMin },
  { title: 'H1:PSL-PWR_PMC_REFL_OUT16 [m-trend]', color: '#2ca02c', yMin: 26.246, yMax: 27.516, split: 6, step: 0.2, mean: reflMean, max: reflMax, min: reflMin },
  { title: 'H1:PSL-PMC_TEMP_OUTPUT [m-trend]', color: '#d62728', yMin: 305.227, yMax: 306.749, split: 7, step: 0.2, mean: tempMean, max: tempMax, min: tempMin },
  { title: 'H1:PSL-PMC_RELOCK_COUNT [m-trend]', color: '#9467bd', yMin: -47, yMax: 1222, split: 6, step: 200, steps: pmcRelockSteps },
  { title: 'H1:PSL-FSS_TPD_DC_OUTPUT [m-trend]', color: '#8c564b', yMin: 0.452, yMax: 0.5194, split: 7, step: 0.01, mean: tpdMean, max: tpdMax, min: tpdMin },
  { title: 'H1:PSL-FSS_RELOCK_COUNT [m-trend]', color: '#e377c2', yMin: -21.7, yMax: 530.5, split: 5, step: 100, steps: fssRelockSteps },
  { title: 'H1:PSL-ISS_DIFFRACTION_AVG [m-trend]', color: '#7f7f7f', yMin: 3.198, yMax: 4.815, split: 8, step: 0.2, mean: diffMean, max: diffMax, min: diffMin },
  { title: 'H1:PSL-ISS_SAT_EVENTS [m-trend]', color: '#bcbd22', yMin: -8.5, yMax: 238.9, split: 12, step: 20, steps: satEventSteps }
];

// plot boxes in page pixels
const cols = [[81, 664], [732, 1281], [1348, 1905], [1973, 2540]];
const rows = [[75, 645], [703, 1274]];
const titleY = [60, 689];

const FONT = '"Noto Sans", "DejaVu Sans", sans-serif';
// samples are evenly spaced over the 10 day window
const toPairs = (vals) => vals.map((v, i) => [-10 + (10 * i) / (vals.length - 1), v]);

function yLabel(step) {
  return function (v) {
    const k = v / step;
    if (Math.abs(k - Math.round(k)) > 1e-6) return '';
    return String(parseFloat(v.toFixed(4)));
  };
}

const grids = [], xAxes = [], yAxes = [], series = [], titles = [];

panels.forEach((p, i) => {
  const c = cols[i % 4], r = rows[Math.floor(i / 4)];
  grids.push({ left: c[0], top: r[0], width: c[1] - c[0], height: r[1] - r[0], outerBoundsMode: 'none' });

  xAxes.push({
    type: 'value', gridIndex: i, min: -10, max: 0, interval: 1,
    axisLine: { onZero: false, lineStyle: { color: '#9c9c9c', width: 1 } },
    axisTick: { show: false },
    splitLine: { show: true, lineStyle: { color: '#e6e6e6', width: 1 } },
    axisLabel: {
      color: '#222', fontSize: 13, fontFamily: FONT, margin: 6,
      formatter: (v) => (v % 2 !== 0 ? '' : xTickLabels[(v + 10) / 2])
    }
  });

  yAxes.push({
    type: 'value', gridIndex: i, min: p.yMin, max: p.yMax, splitNumber: p.split,
    name: 'counts', nameLocation: 'middle', nameRotate: 90, nameGap: 44,
    nameTextStyle: { color: '#222', fontSize: 13, fontFamily: FONT },
    axisLine: { show: true, onZero: false, lineStyle: { color: '#9c9c9c', width: 1 } },
    axisTick: { show: false },
    splitLine: { show: true, lineStyle: { color: '#ebebeb', width: 1 } },
    axisLabel: { color: '#222', fontSize: 13, fontFamily: FONT, margin: 7, formatter: yLabel(p.step) }
  });

  titles.push({
    type: 'text', x: (c[0] + c[1]) / 2, y: titleY[Math.floor(i / 4)],
    style: { text: p.title, fill: '#222', font: '13px ' + FONT, align: 'center', verticalAlign: 'middle' },
    silent: true
  });

  const base = { type: 'line', xAxisIndex: i, yAxisIndex: i, symbol: 'none', showSymbol: false, animation: false, silent: true, clip: true };
  if (p.steps) {
    series.push(Object.assign({}, base, { step: 'end', data: p.steps, lineStyle: { color: p.color, width: 1.3 } }));
  } else {
    series.push(Object.assign({}, base, { data: toPairs(p.max), z: 2, lineStyle: { color: p.color, width: 1, type: [4, 2], opacity: 0.7 } }));
    series.push(Object.assign({}, base, { data: toPairs(p.min), z: 2, lineStyle: { color: p.color, width: 1, type: [4, 2], opacity: 0.7 } }));
    series.push(Object.assign({}, base, { data: toPairs(p.mean), z: 3, lineStyle: { color: p.color, width: 1.3 } }));
  }
});

const chart = echarts.init(document.getElementById('chart'), null, { renderer: 'svg' });
chart.setOption({
  backgroundColor: '#fff',
  animation: false,
  textStyle: { fontFamily: FONT },
  grid: grids,
  xAxis: xAxes,
  yAxis: yAxes,
  graphic: titles,
  series: series
});
</script>
</body>
</html>
